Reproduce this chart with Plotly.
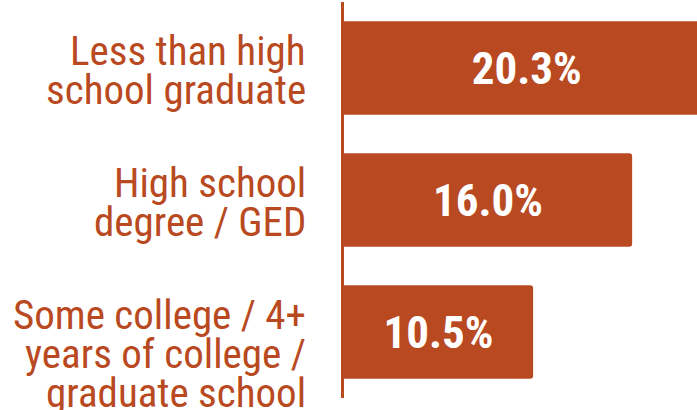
import plotly.graph_objects as go

categories = ["Less than high<br>school graduate",
              "High school<br>degree / GED",
              "Some college / 4+<br>years of college /<br>graduate school"]
values = [20.3, 16.0, 10.5]
labels = ["20.3%", "16.0%", "10.5%"]

color = "#B94921"

fig = go.Figure(go.Bar(
    x=values, y=categories, orientation="h",
    marker=dict(color=color, line=dict(width=0)),
    width=0.71,
    text=['<span style="font-stretch:75%">' + t + '</span>' for t in labels],
    textposition="inside", insidetextanchor="middle",
    textfont=dict(family="Roboto", size=45, color="white", weight="bold"),
    cliponaxis=True, hoverinfo="skip",
))

for c in categories:
    for k, line in enumerate(c.split("<br>")):
        fig.add_annotation(
            x=0, y=c, xref="paper", yref="y", xanchor="right", yanchor="middle",
            xshift=-36, yshift=17 - 39 * k,
            text='<span style="font-stretch:75%">' + line + '</span>',
            showarrow=False, align="right",
            font=dict(family="Roboto", size=41, color=color),
        )

fig.update_layout(
    width=697, height=410,
    margin=dict(l=344, r=0, t=2, b=12),
    paper_bgcolor="white", plot_bgcolor="white",
    showlegend=False, barcornerradius=3,
    xaxis=dict(range=[0, 19.6], visible=False, fixedrange=True),
    yaxis=dict(autorange="reversed", showticklabels=False, showgrid=False,
               showline=True, linecolor=color, linewidth=3, ticks="",
               zeroline=False, fixedrange=True),
    uniformtext=dict(mode="show", minsize=10),
)

fig.write_html("out.html", config={"displayModeBar": False},
               post_script="document.body.style.margin='0';document.body.style.overflow='hidden';")
